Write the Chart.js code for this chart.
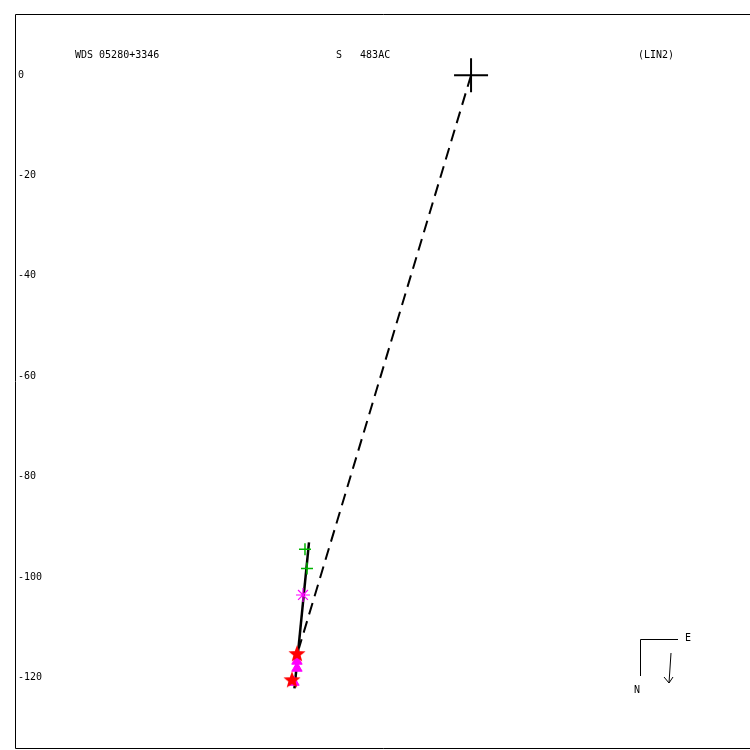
<!DOCTYPE html>
<html>
<head>
<meta charset="utf-8">
<script src="https://cdn.jsdelivr.net/npm/chart.js@4/dist/chart.umd.min.js"></script>
<style>
  html, body { margin: 0; padding: 0; background: #fff; }
  #wrap { width: 750px; height: 750px; }
</style>
</head>
<body>
<div id="wrap"><canvas id="chart" width="750" height="750"></canvas></div>
<script>
// header texts
const TITLE_LEFT  = 'WDS 05280+3346';
const TITLE_MID   = 'S   483AC';
const TITLE_RIGHT = '(LIN2)';

// y tick labels
const Y_TICKS = [0, -20, -40, -60, -80, -100, -120];

// primary star at origin
const PRIMARY_X = [0];
const PRIMARY_Y = [0];

// observations
const GREEN_X = [-33.1, -32.7];
const GREEN_Y = [-94.5, -98.3];
const ASTER_X = [-33.5];
const ASTER_Y = [-103.6];
const STAR_X  = [-34.7, -35.7];
const STAR_Y  = [-115.4, -120.6];
const TRI_X   = [-34.7, -34.7, -35.3];
const TRI_Y   = [-116.8, -118.2, -121.0];

// linear fit and the dashed connector from the primary
const FIT_X  = [-32.3, -35.2];
const FIT_Y  = [-93.1, -122.2];
const DASH_X = [0, -34.3];
const DASH_Y = [0, -114.2];

const X_MIN = -90.9, X_MAX = 55.6;
const Y_MIN = -134.3, Y_MAX = 12.2;

const FONT = '10px "DejaVu Sans Mono", monospace';

const pts = (xs, ys) => xs.map((x, i) => ({ x, y: ys[i] }));

function makeStar(color, r) {
  const c = document.createElement('canvas');
  const size = r * 2 + 2;
  c.width = size; c.height = size;
  const g = c.getContext('2d');
  g.fillStyle = color;
  g.beginPath();
  for (let i = 0; i < 10; i++) {
    const rad = i % 2 === 0 ? r : r * 0.42;
    const a = -Math.PI / 2 + i * Math.PI / 5;
    const px = size / 2 + rad * Math.cos(a);
    const py = size / 2 + rad * Math.sin(a);
    if (i === 0) g.moveTo(px, py); else g.lineTo(px, py);
  }
  g.closePath();
  g.fill();
  return c;
}

const frame = {
  id: 'frame',
  beforeDraw(chart) {
    const { ctx, chartArea: a } = chart;
    ctx.save();
    ctx.fillStyle = '#fff';
    ctx.fillRect(0, 0, chart.width, chart.height);
    ctx.strokeStyle = '#000';
    ctx.lineWidth = 1;
    ctx.beginPath();
    ctx.moveTo(a.right + 5, a.top + 0.5);
    ctx.lineTo(a.left + 0.5, a.top + 0.5);
    ctx.lineTo(a.left + 0.5, a.bottom - 0.5);
    ctx.lineTo(a.right + 5, a.bottom - 0.5);
    ctx.stroke();
    ctx.restore();
  },
  afterDraw(chart) {
    const { ctx } = chart;
    ctx.save();
    ctx.fillStyle = '#000';
    ctx.font = FONT;
    ctx.textBaseline = 'middle';
    ctx.textAlign = 'left';
    ctx.fillText(TITLE_LEFT, 75, 55);
    ctx.fillText(TITLE_MID, 336, 55);
    ctx.fillText(TITLE_RIGHT, 638, 55);

    // orientation box
    ctx.strokeStyle = '#000';
    ctx.lineWidth = 1;
    ctx.beginPath();
    ctx.moveTo(640.5, 676);
    ctx.lineTo(640.5, 639.5);
    ctx.lineTo(678, 639.5);
    ctx.stroke();
    ctx.textAlign = 'center';
    ctx.fillText('N', 637, 690);
    ctx.fillText('E', 688, 638);

    // motion arrow
    ctx.beginPath();
    ctx.moveTo(671, 653);
    ctx.lineTo(669, 683);
    ctx.moveTo(664, 677);
    ctx.lineTo(669, 683);
    ctx.lineTo(673, 677);
    ctx.stroke();
    ctx.restore();
  }
};

const ctx = document.getElementById('chart');
new Chart(ctx, {
  type: 'scatter',
  data: {
    datasets: [
      {
        label: 'dashed',
        data: pts(DASH_X, DASH_Y),
        showLine: true,
        borderColor: '#000',
        borderWidth: 2,
        borderDash: [12, 7],
        pointRadius: 0,
      },
      {
        label: 'green',
        data: pts(GREEN_X, GREEN_Y),
        pointStyle: 'cross',
        pointRadius: 6,
        borderColor: '#00b400',
        borderWidth: 1.5,
      },
      {
        label: 'asterisk',
        data: pts(ASTER_X, ASTER_Y),
        pointStyle: 'star',
        pointRadius: 7,
        borderColor: '#ff00ff',
        borderWidth: 1.2,
      },
      {
        label: 'red',
        data: pts(STAR_X, STAR_Y),
        pointStyle: makeStar('#ff0000', 9),
        pointRadius: 9,
      },
      {
        label: 'triangles',
        data: pts(TRI_X, TRI_Y),
        pointStyle: 'triangle',
        pointRadius: 6,
        backgroundColor: '#ff00ff',
        borderColor: '#ff00ff',
        borderWidth: 1,
      },
      {
        label: 'fit',
        data: pts(FIT_X, FIT_Y),
        showLine: true,
        borderColor: '#000',
        borderWidth: 2.5,
        pointRadius: 0,
      },
      {
        label: 'primary',
        data: pts(PRIMARY_X, PRIMARY_Y),
        pointStyle: 'cross',
        pointRadius: 17,
        borderColor: '#000',
        borderWidth: 2,
      },
    ],
  },
  options: {
    responsive: false,
    animation: false,
    devicePixelRatio: 1,
    layout: { autoPadding: false, padding: { left: 15, top: 14, right: 0, bottom: 1 } },
    plugins: { legend: { display: false }, tooltip: { enabled: false } },
    scales: {
      x: { min: X_MIN, max: X_MAX, display: false },
      y: {
        min: Y_MIN,
        max: Y_MAX,
        afterBuildTicks: (axis) => { axis.ticks = Y_TICKS.map((v) => ({ value: v })); },
        afterFit: (axis) => { axis.width = 0; axis.paddingTop = 0; axis.paddingBottom = 0; },
        grid: { display: false, drawTicks: false },
        border: { display: false },
        ticks: { mirror: true, padding: 3, color: '#000', font: { family: '"DejaVu Sans Mono", monospace', size: 10 } },
      },
    },
  },
  plugins: [frame],
});
</script>
</body>
</html>
